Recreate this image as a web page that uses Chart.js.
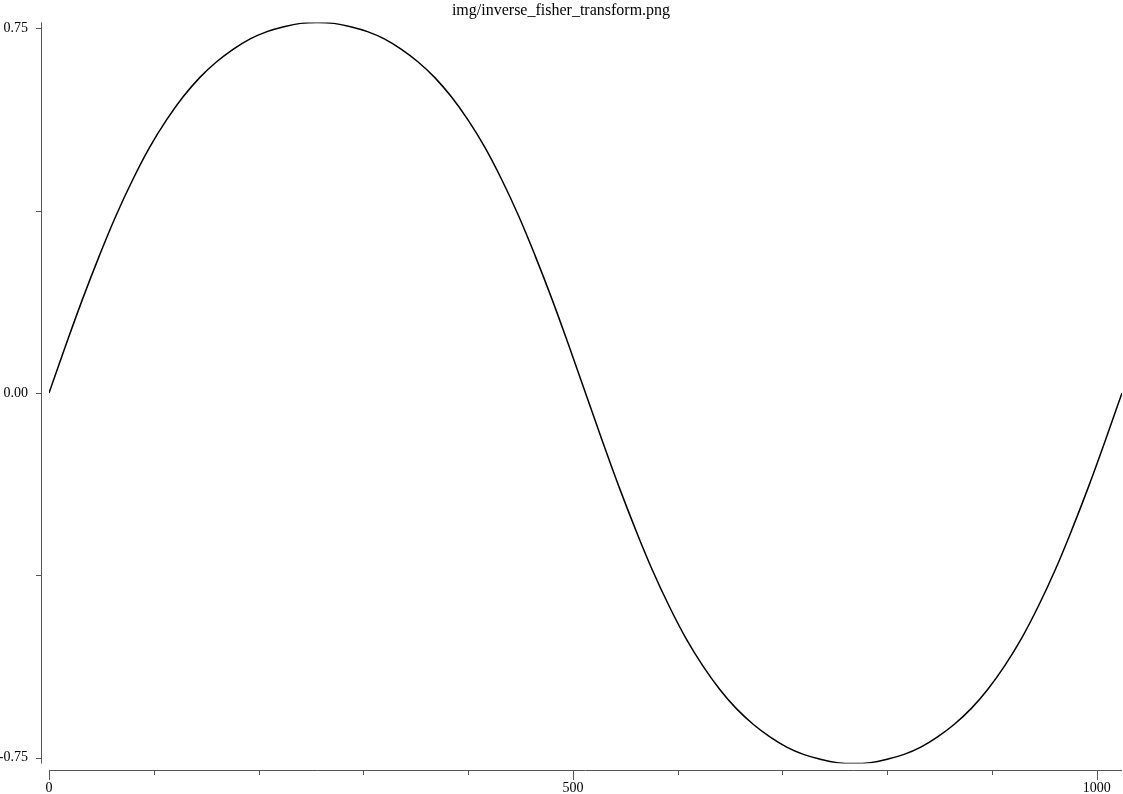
<!DOCTYPE html>
<html>
<head>
<meta charset="utf-8">
<title>img/inverse_fisher_transform.png</title>
<script src="https://cdn.jsdelivr.net/npm/chart.js@4.4.1/dist/chart.umd.min.js"></script>
<style>
  html, body { margin: 0; padding: 0; background: #fff; }
  canvas { display: block; }
</style>
</head>
<body>
<canvas id="chart" width="1123" height="794"></canvas>
<script>
/* ---------- data ---------- */
const TITLE = 'img/inverse_fisher_transform.png';

const xValues = [
  0, 16, 32, 48, 64, 80, 96, 112, 128, 144, 160, 176, 192, 208, 224, 240,
  256, 272, 288, 304, 320, 336, 352, 368, 384, 400, 416, 432, 448, 464, 480, 496,
  512, 528, 544, 560, 576, 592, 608, 624, 640, 656, 672, 688, 704, 720, 736, 752,
  768, 784, 800, 816, 832, 848, 864, 880, 896, 912, 928, 944, 960, 976, 992, 1008,
  1024
];
const yValues = [
  0.000, 0.098, 0.193, 0.282, 0.365, 0.439, 0.505, 0.561, 0.609, 0.649, 0.681, 0.707, 0.728, 0.743, 0.753, 0.760,
  0.762, 0.760, 0.753, 0.743, 0.728, 0.707, 0.681, 0.649, 0.609, 0.561, 0.505, 0.439, 0.365, 0.282, 0.193, 0.098,
  0.000, -0.098, -0.193, -0.282, -0.365, -0.439, -0.505, -0.561, -0.609, -0.649, -0.681, -0.707, -0.728, -0.743, -0.753, -0.760,
  -0.762, -0.760, -0.753, -0.743, -0.728, -0.707, -0.681, -0.649, -0.609, -0.561, -0.505, -0.439, -0.365, -0.282, -0.193, -0.098,
  0.000
];

const xTicks = [0, 100, 200, 300, 400, 500, 600, 700, 800, 900, 1000];
const xLabels = [0, 500, 1000];
const yTicks = [-0.75, -0.375, 0, 0.375, 0.75];
const yLabels = [-0.75, 0, 0.75];

const X_MIN = 0, X_MAX = 1024;
const Y_MIN = -0.762, Y_MAX = 0.762;

const FONT = "'Liberation Serif', 'DejaVu Serif', serif";
const AXIS_COLOR = '#555';

/* ---------- detached axes: lines + tick marks drawn from the scales ---------- */
const detachedAxes = {
  id: 'detachedAxes',
  afterDraw(chart) {
    const { ctx, scales: { x, y } } = chart;
    const axisX = x.getPixelForValue(X_MIN) - 8;   // y axis sits left of the data
    const axisY = y.getPixelForValue(Y_MIN) + 6.5; // x axis sits below the data
    ctx.save();
    ctx.strokeStyle = AXIS_COLOR;
    ctx.lineWidth = 1;
    ctx.beginPath();
    // y axis
    const ax = Math.round(axisX) + 0.5;
    ctx.moveTo(ax, y.getPixelForValue(Y_MAX));
    ctx.lineTo(ax, y.getPixelForValue(Y_MIN));
    y.ticks.forEach(t => {
      const py = Math.round(y.getPixelForValue(t.value)) + 0.5;
      ctx.moveTo(ax - 5.5, py);
      ctx.lineTo(ax, py);
    });
    // x axis
    const ay = Math.round(axisY) + 0.5;
    ctx.moveTo(x.getPixelForValue(X_MIN), ay);
    ctx.lineTo(x.getPixelForValue(X_MAX), ay);
    x.ticks.forEach(t => {
      const px = Math.round(x.getPixelForValue(t.value)) + 0.5;
      const len = xLabels.includes(t.value) ? 9.5 : 4.5;
      ctx.moveTo(px, ay);
      ctx.lineTo(px, ay + len);
    });
    ctx.stroke();
    ctx.restore();
  }
};

// scales keep a fixed size and no label overhang padding
const noOverhang = s => {
  s.paddingLeft = 0; s.paddingRight = 0;
  s.paddingTop = 0; s.paddingBottom = 0;
};

new Chart(document.getElementById('chart'), {
  type: 'line',
  data: {
    datasets: [{
      data: xValues.map((v, i) => ({ x: v, y: yValues[i] })),
      borderColor: '#000',
      borderWidth: 1.5,
      pointRadius: 0,
      fill: false,
      tension: 0.4
    }]
  },
  options: {
    responsive: false,
    devicePixelRatio: 1,
    animation: false,
    layout: { padding: { left: 0, right: 1, top: 0, bottom: 0 } },
    plugins: {
      legend: { display: false },
      tooltip: { enabled: false },
      title: {
        display: true,
        text: TITLE,
        color: '#000',
        font: { family: FONT, size: 16, weight: 'normal' },
        padding: { top: 1.5, bottom: 1.7 }
      }
    },
    scales: {
      x: {
        type: 'linear',
        min: X_MIN,
        max: X_MAX,
        grid: { display: false, drawTicks: false },
        border: { display: false },
        afterBuildTicks: s => { s.ticks = xTicks.map(v => ({ value: v })); },
        afterFit: s => { s.height = 30.4; noOverhang(s); },
        ticks: {
          padding: 16.5,
          color: '#000',
          maxRotation: 0,
          autoSkip: false,
          font: { family: FONT, size: 14 },
          callback: v => xLabels.includes(v) ? String(v) : ''
        }
      },
      y: {
        type: 'linear',
        min: Y_MIN,
        max: Y_MAX,
        grid: { display: false, drawTicks: false },
        border: { display: false },
        afterBuildTicks: s => { s.ticks = yTicks.map(v => ({ value: v })); },
        afterFit: s => { s.width = 49; noOverhang(s); },
        ticks: {
          padding: 21,
          color: '#000',
          autoSkip: false,
          font: { family: FONT, size: 14 },
          callback: v => yLabels.includes(v) ? v.toFixed(2) : ''
        }
      }
    }
  },
  plugins: [detachedAxes]
});
</script>
</body>
</html>
